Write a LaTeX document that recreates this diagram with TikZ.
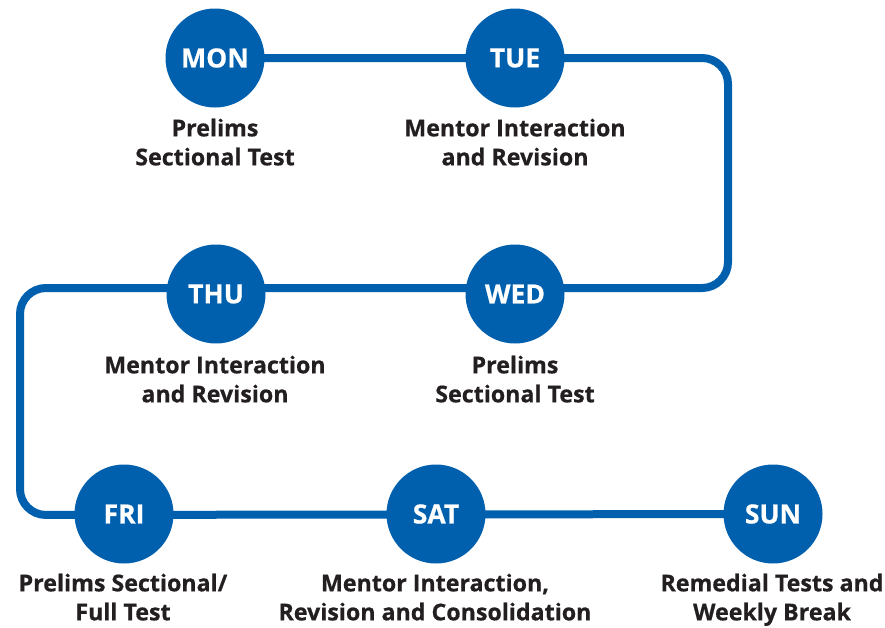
\documentclass[tikz,border=0pt]{standalone}
\usepackage{fontspec}
\setmainfont{Open Sans}[BoldFeatures={FakeBold=0.6}]
\usetikzlibrary{backgrounds}
\definecolor{dayblue}{HTML}{0060AE}
\definecolor{labeltext}{HTML}{231F20}
\tikzset{
  day/.style={circle, fill=dayblue, minimum size=99pt, inner sep=0pt,
    text=white, font=\fontsize{26.5}{30}\selectfont\bfseries},
  lbl/.style={anchor=north, inner sep=0pt, align=center, text=labeltext,
    font=\fontsize{23.2}{29}\selectfont\bfseries},
  conn/.style={draw=dayblue, line width=8pt, rounded corners=26pt}
}
\begin{document}
\begin{tikzpicture}[x=1pt, y=-1pt]
\useasboundingbox (0,0) rectangle (885,627);
\node[day] (mon) at (215,58) {MON};
\node[day] (tue) at (515,58) {TUE};
\node[day] (wed) at (515,294) {WED};
\node[day] (thu) at (216,294) {THU};
\node[day] (fri) at (124,514) {FRI};
\node[day] (sat) at (436,514) {SAT};
\node[day] (sun) at (773,514) {SUN};
\coordinate (c1) at (728,58);
\coordinate (c2) at (728,288);
\coordinate (c3) at (20,288);
\coordinate (c4) at (20,515);
\begin{scope}[on background layer]
\draw[conn] (mon.center) -- (c1) -- (c2) -- (c3) -- (c4) -- (sun.center);
\end{scope}
\node[lbl] (lmon) at (215,118.5) {Prelims\\Sectional Test};
\node[lbl] (ltue) at (515,118.5) {Mentor Interaction\\and Revision};
\node[lbl] (lthu) at (215,355.5) {Mentor Interaction\\and Revision};
\node[lbl] (lwed) at (515,355.5) {Prelims\\Sectional Test};
\node[lbl] (lfri) at (123,573.5) {Prelims Sectional/\\Full Test};
\node[lbl] (lsat) at (435,573.5) {Mentor Interaction,\\Revision and Consolidation};
\node[lbl] (lsun) at (772,573.5) {Remedial Tests and\\Weekly Break};
\end{tikzpicture}
\end{document}
